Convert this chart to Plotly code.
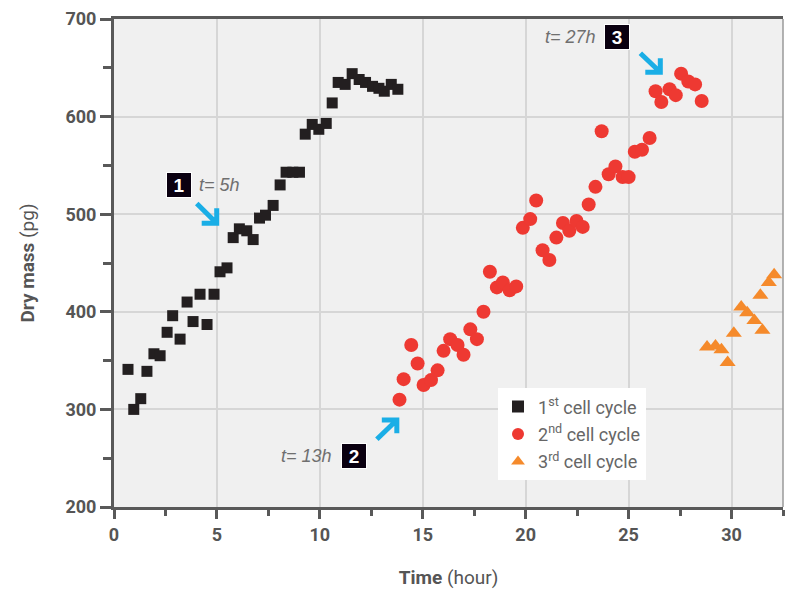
import plotly.graph_objects as go

# ---- data ----
t1 = [0.68, 0.96, 1.30, 1.60, 1.94, 2.24, 2.58, 2.85, 3.21, 3.55, 3.84, 4.18, 4.52, 4.86,
      5.15, 5.49, 5.79, 6.09, 6.45, 6.76, 7.07, 7.36, 7.73, 8.07, 8.36, 8.69, 9.01, 9.29,
      9.63, 9.95, 10.31, 10.60, 10.89, 11.23, 11.57, 11.91, 12.22, 12.56, 12.87, 13.13,
      13.47, 13.79]
m1 = [341, 300, 311, 339, 357, 355, 379, 396, 372, 410, 390, 418, 387, 418,
      441, 445, 476, 485, 483, 474, 496, 499, 509, 530, 543, 543, 543, 582,
      592, 587, 593, 614, 635, 633, 644, 638, 635, 631, 629, 626,
      633, 628]

t2 = [13.87, 14.07, 14.44, 14.75, 15.04, 15.40, 15.72, 16.01, 16.33, 16.69, 16.98, 17.31,
      17.63, 17.95, 18.26, 18.60, 18.89, 19.22, 19.54, 19.86, 20.22, 20.51, 20.82, 21.15,
      21.49, 21.81, 22.12, 22.47, 22.77, 23.06, 23.39, 23.69, 24.03, 24.36, 24.71, 25.00,
      25.30, 25.65, 26.02, 26.31, 26.59, 26.99, 27.29, 27.55, 27.90, 28.23, 28.55]
m2 = [310, 331, 366, 347, 325, 330, 340, 360, 372, 366, 356, 382,
      372, 400, 441, 425, 430, 422, 426, 486, 495, 514, 463, 453,
      476, 491, 483, 493, 487, 510, 528, 585, 541, 549, 538, 538,
      564, 566, 578, 626, 615, 628, 622, 644, 636, 633, 616]

t3 = [28.81, 29.22, 29.51, 29.81, 30.11, 30.47, 30.76, 31.11, 31.40, 31.50, 31.81, 32.07]
m3 = [364, 365, 361, 348, 378, 405, 399, 391, 417, 381, 430, 438]

series_names = ["1<sup>st</sup> cell cycle", "2<sup>nd</sup> cell cycle", "3<sup>rd</sup> cell cycle"]

# annotation labels: (number, time label)
labels = ["1", "2", "3"]
time_labels = ["t= 5h", "t= 13h", "t= 27h"]

AX = "#595959"
GRID = "#d6d6d6"
TICKFONT = dict(family="Roboto, sans-serif", size=18, color="#555555", weight="bold")

fig = go.Figure()
fig.add_trace(go.Scatter(x=t1, y=m1, mode="markers", name=series_names[0], legendgroup="a",
                         marker=dict(symbol="square", size=11, color="#231f20")))
fig.add_trace(go.Scatter(x=t2, y=m2, mode="markers", name=series_names[1], legendgroup="b",
                         marker=dict(symbol="circle", size=14, color="#ee3932")))
fig.add_trace(go.Scatter(x=t3, y=m3, mode="markers", name=series_names[2], legendgroup="c",
                         marker=dict(symbol="triangle-up", size=14, color="#f58a2b")))

# label boxes and time texts
box_pos = [(3.16, 530), (11.67, 252), (24.45, 681.5)]
text_pos = [(4.03, 530, "left"), (10.70, 252, "right"), (23.53, 681.5, "right")]
for (bx, by), lab, (tx, ty, anc), tl in zip(box_pos, labels, text_pos, time_labels):
    fig.add_annotation(x=bx, y=by, xref="x", yref="y", text="<b>" + lab + "</b>", showarrow=False,
                       font=dict(family="Liberation Sans, Arial, sans-serif", size=19, color="white"),
                       bgcolor="#0a0010", bordercolor="white", borderwidth=1, borderpad=1,
                       width=22, height=22)
    fig.add_annotation(x=tx, y=ty, xref="x", yref="y", text="<i>" + tl + "</i>", showarrow=False,
                       xanchor=anc, font=dict(family="Liberation Sans, Arial, sans-serif", size=18,
                                              color="#6f6f6f"))

# arrows: tail, head, leg A, leg B
arrows = [
    ((4.02, 511), (4.99, 490.7), (4.26, 490.7), (4.99, 506)),
    ((12.77, 269.4), (13.74, 289.1), (13.01, 289.1), (13.74, 275.5)),
    ((25.57, 664.9), (26.54, 645.4), (26.54, 659.7), (25.81, 645.4)),
]
for tail, head, la, lb in arrows:
    path = (f"M {tail[0]},{tail[1]} L {head[0]},{head[1]} "
            f"M {la[0]},{la[1]} L {head[0]},{head[1]} L {lb[0]},{lb[1]}")
    fig.add_shape(type="path", path=path, xref="x", yref="y",
                  line=dict(color="#1aaee6", width=5))

# thin right border
fig.add_shape(type="line", xref="paper", yref="paper", x0=1, x1=1, y0=0, y1=1,
              line=dict(color="#9a9a9a", width=1.5))

fig.update_layout(
    width=785, height=591,
    margin=dict(l=114, r=2, t=19, b=84),
    paper_bgcolor="white", plot_bgcolor="#f0f0f0",
    showlegend=True,
    legend=dict(x=0.574, y=0.243, xanchor="left", yanchor="top", bgcolor="white",
                font=dict(family="Roboto, Noto Sans, sans-serif", size=18, color="#666666"),
                itemsizing="constant", borderwidth=0, tracegroupgap=1),
    xaxis=dict(range=[0, 32.5], dtick=5, tick0=0, showgrid=True, gridcolor=GRID, gridwidth=1.5,
               showline=True, linecolor=AX, linewidth=3, mirror=True, automargin=False,
               ticks="outside", ticklen=9, tickwidth=2.5, tickcolor=AX,
               minor=dict(dtick=2.5, ticks="outside", ticklen=6, tickwidth=2.5, tickcolor=AX, showgrid=False),
               tickfont=TICKFONT, zeroline=False,
               title=dict(text="<b>Time</b> (hour)", font=dict(family="Roboto, sans-serif", size=19, color="#555555"),
                          standoff=28)),
    yaxis=dict(range=[200, 700], dtick=100, showgrid=True, gridcolor=GRID, gridwidth=1.5,
               showline=True, linecolor=AX, linewidth=3, mirror=False, automargin=False,
               ticks="outside", ticklen=11, tickwidth=2.5, tickcolor=AX,
               minor=dict(dtick=50, ticks="outside", ticklen=8, tickwidth=2.5, tickcolor=AX, showgrid=False),
               tickfont=TICKFONT, zeroline=False,
               title=dict(text="<b>Dry mass</b> (pg)", font=dict(family="Roboto, sans-serif", size=19, color="#555555"),
                          standoff=26)),
)

fig.write_html("out.html", config={"displayModeBar": False},
               post_script="document.body.style.margin='0';")
